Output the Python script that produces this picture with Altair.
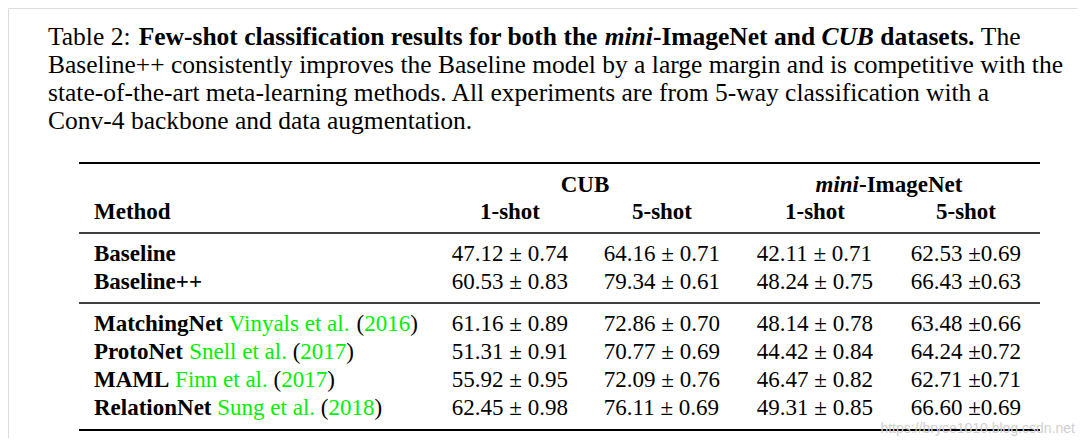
import altair as alt
import pandas as pd

# ---------------- data ----------------
methods = ["Baseline", "Baseline++", "MatchingNet", "ProtoNet", "MAML", "RelationNet"]
cite_authors = ["", "", "Vinyals et al.", "Snell et al.", "Finn et al.", "Sung et al."]
cite_years = ["", "", "2016", "2017", "2017", "2018"]

cub_1shot = [47.12, 60.53, 61.16, 51.31, 55.92, 62.45]
cub_1shot_ci = [0.74, 0.83, 0.89, 0.91, 0.95, 0.98]
cub_5shot = [64.16, 79.34, 72.86, 70.77, 72.09, 76.11]
cub_5shot_ci = [0.71, 0.61, 0.70, 0.69, 0.76, 0.69]
mini_1shot = [42.11, 48.24, 48.14, 44.42, 46.47, 49.31]
mini_1shot_ci = [0.71, 0.75, 0.78, 0.84, 0.82, 0.85]
mini_5shot = [62.53, 66.43, 63.48, 64.24, 62.71, 66.60]
mini_5shot_ci = [0.69, 0.63, 0.66, 0.72, 0.71, 0.69]

group_headers = ["CUB", "mini-ImageNet"]
shot_headers = ["1-shot", "5-shot", "1-shot", "5-shot"]
method_header = "Method"

caption_line1 = [("Table 2: ", "reg"),
                 ("Few-shot classification results for both the ", "bold"),
                 ("mini", "bi"),
                 ("-ImageNet and ", "bold"),
                 ("CUB", "bi"),
                 (" datasets.", "bold"),
                 (" The", "reg")]
caption_rest = [
    "Baseline++ consistently improves the Baseline model by a large margin and is competitive with the",
    "state-of-the-art meta-learning methods. All experiments are from 5-way classification with a",
    "Conv-4 backbone and data augmentation.",
]
watermark = "https://bryce1010.blog.csdn.net"

# ---------------- layout (font metrics of Times / Liberation Serif) ----------------
LOW = "abcdefghijklmnopqrstuvwxyz"
UP = "ABCDEFGHIJKLMNOPQRSTUVWXYZ"
W = {
    "reg": dict(zip(LOW, [444, 500, 444, 500, 444, 333, 500, 500, 278, 278, 500, 278, 778, 500, 500,
                          500, 500, 333, 389, 278, 500, 500, 722, 500, 500, 444])),
    "bold": dict(zip(LOW, [500, 556, 444, 556, 444, 333, 500, 556, 278, 333, 556, 278, 833, 556, 500,
                           556, 556, 444, 389, 333, 556, 500, 722, 500, 500, 444])),
    "bi": dict(zip(LOW, [500, 500, 444, 500, 444, 333, 500, 556, 278, 278, 500, 278, 778, 556, 500,
                         500, 500, 389, 389, 278, 556, 444, 667, 500, 444, 389])),
}
W["reg"].update(zip(UP, [722, 667, 667, 722, 611, 556, 722, 722, 333, 389, 722, 611, 889, 722, 722,
                         556, 722, 667, 556, 611, 722, 722, 944, 722, 722, 611]))
W["bold"].update(zip(UP, [722, 667, 722, 722, 667, 611, 778, 778, 389, 500, 778, 667, 944, 722, 778,
                          611, 778, 722, 556, 667, 722, 722, 1000, 722, 722, 667]))
W["bi"].update(zip(UP, [667, 667, 667, 722, 667, 667, 722, 778, 389, 500, 667, 611, 889, 722, 722,
                        611, 722, 667, 556, 611, 722, 667, 889, 667, 611, 611]))
for k in W:
    W[k].update({c: 500 for c in "0123456789"})
    W[k].update({" ": 250, ".": 250, ",": 250, "-": 333, "(": 333, ")": 333,
                 ":": 278 if k == "reg" else 333, "+": 570 if k != "reg" else 564, "±": 564})


def tw(s, style, size):
    return sum(W[style].get(c, 500) for c in s) * size / 1000.0


CAP = 25.5     # caption font size
TAB = 23       # table font size
GREEN = "#00f000"

segs = []  # x, y, text, style, color, size


def add(x, y, text, style, color="black", size=TAB):
    # SVG collapses leading blanks: move them into the x offset instead
    stripped = text.lstrip(" ")
    x0 = x + tw(text[: len(text) - len(stripped)], style, size)
    segs.append(dict(x=x0, y=y, text=stripped, style=style, color=color, size=size))
    return x0 + tw(stripped, style, size)


# caption
cap_x = 48
cap_base = [45, 73, 101, 129]
x = cap_x
for t, st in caption_line1:
    x = add(x, cap_base[0], t, st, size=CAP)
for i, line in enumerate(caption_rest):
    add(cap_x, cap_base[i + 1], line, "reg", size=CAP)

# table
col_x = [510, 662, 815, 966]
group_x = [585, 889]
y_group = 192
y_head = 219
row_base = [261, 289, 331, 359, 387, 415]
name_x = 94

add(group_x[0] - tw(group_headers[0], "bold", TAB) / 2, y_group, group_headers[0], "bold")
mini_w = tw("mini", "bi", TAB) + tw("-ImageNet", "bold", TAB)
xx = add(group_x[1] - mini_w / 2, y_group, "mini", "bi")
add(xx, y_group, "-ImageNet", "bold")

add(name_x, y_head, method_header, "bold")
for cx, h in zip(col_x, shot_headers):
    add(cx - tw(h, "bold", TAB) / 2, y_head, h, "bold")

for i, m in enumerate(methods):
    yb = row_base[i]
    xx = add(name_x, yb, m, "bold")
    if cite_authors[i]:
        xx += tw(" ", "reg", TAB)
        xx = add(xx, yb, cite_authors[i] + " ", "reg", GREEN)
        xx = add(xx, yb, "(", "reg")
        xx = add(xx, yb, cite_years[i], "reg", GREEN)
        add(xx, yb, ")", "reg")
    vals = [f"{cub_1shot[i]:.2f} ± {cub_1shot_ci[i]:.2f}",
            f"{cub_5shot[i]:.2f} ± {cub_5shot_ci[i]:.2f}",
            f"{mini_1shot[i]:.2f} ± {mini_1shot_ci[i]:.2f}",
            f"{mini_5shot[i]:.2f} ±{mini_5shot_ci[i]:.2f}"]
    for cx, v in zip(col_x, vals):
        add(cx - tw(v, "reg", TAB) / 2, yb, v, "reg")

df = pd.DataFrame(segs)

rules = pd.DataFrame({
    "x": [79, 79, 79, 79], "x2": [1040, 1040, 1040, 1040],
    "y": [163, 233, 303, 430], "w": [2.2, 1.3, 1.3, 2.2],
})

X = alt.Scale(domain=[8, 1077], nice=False, zero=False)
Y = alt.Scale(domain=[8, 438], nice=False, zero=False, reverse=True)

layers = []
for style, weight, fstyle in [("reg", "normal", "normal"), ("bold", "bold", "normal"), ("bi", "bold", "italic")]:
    sub = df[df["style"] == style]
    layers.append(
        alt.Chart(sub).mark_text(align="left", baseline="alphabetic", font="Liberation Serif",
                                 fontWeight=weight, fontStyle=fstyle)
        .encode(x=alt.X("x:Q", scale=X, axis=None),
                y=alt.Y("y:Q", scale=Y, axis=None),
                text="text:N",
                color=alt.Color("color:N", scale=None),
                size=alt.Size("size:Q", scale=None))
    )

rule_layer = alt.Chart(rules).mark_rule(color="black").encode(
    x=alt.X("x:Q", scale=X, axis=None), x2="x2:Q",
    y=alt.Y("y:Q", scale=Y, axis=None),
    strokeWidth=alt.StrokeWidth("w:Q", scale=None))

wm = alt.Chart(pd.DataFrame({"x": [1075], "y": [433], "text": [watermark]})).mark_text(
    align="right", baseline="alphabetic", font="Liberation Sans", fontSize=14, color="#d0d0d0"
).encode(x=alt.X("x:Q", scale=X, axis=None), y=alt.Y("y:Q", scale=Y, axis=None), text="text:N")

chart = alt.layer(rule_layer, *layers, wm).properties(
    width=1069, height=430, padding=0
).configure_view(stroke=None).configure(background="white")

chart.save("out.html", embed_options={"renderer": "svg", "actions": False})
